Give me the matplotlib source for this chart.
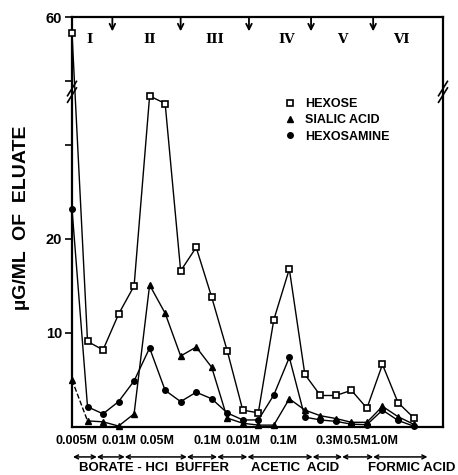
import numpy as np
import matplotlib as mpl
mpl.use('agg')
import matplotlib.pyplot as plt
from matplotlib.lines import Line2D

plt.rcParams['font.family'] = ['Liberation Sans', 'DejaVu Sans']

# fraction number along the column, values in ug/ml of eluate
fractions = np.arange(23)
hexose = [55, 9.1, 8.2, 12.0, 15.0, 35.2, 34.4, 16.6, 19.1, 13.8, 8.1, 1.8,
          1.5, 11.4, 16.8, 5.6, 3.35, 3.35, 3.9, 2.0, 6.65, 2.6, 1.0]
sialic = [5.0, 0.65, 0.55, 0.1, 1.4, 15.1, 12.1, 7.55, 8.5, 6.35, 0.95, 0.4,
          0.2, 0.2, 3.0, 1.8, 1.2, 0.9, 0.5, 0.5, 2.2, 1.1, 0.3]
hexosamine = [23.2, 2.15, 1.4, 2.7, 4.9, 8.4, 3.9, 2.7, 3.7, 3.0, 1.5, 0.75,
              0.75, 3.4, 7.4, 1.05, 0.75, 0.6, 0.3, 0.25, 1.8, 0.7, 0.1]

peak_names = ['I', 'II', 'III', 'IV', 'V', 'VI']
peak_pos = [1.1, 5.0, 9.2, 13.8, 17.4, 21.2]
cut_pos = [2.6, 7.0, 11.4, 15.4, 19.4]

conc_labels = ['0.005M', '0.01M', '0.05M', '0.1M', '0.01M', '0.1M', '0.3M', '0.5M', '1.0M']
conc_pos = [0.26, 3.0, 5.5, 8.7, 11.0, 13.6, 16.6, 18.4, 20.1]
step_bounds = [0.06, 1.6, 3.4, 7.4, 9.35, 11.3, 15.5, 17.4, 19.4, 22.9]

# broken y axis: linear up to 36, compressed above 40
brk_v = [-1000, 0, 36, 40, 60, 1000]
brk_d = [-1000, 0, 36, 36.8, 43.6, 43.6 + 940 * 0.34]
def fwd(v):
    return np.interp(v, brk_v, brk_d)
def inv(d):
    return np.interp(d, brk_d, brk_v)

fig = plt.figure(figsize=(4.58, 4.75), dpi=100)
ax = fig.add_axes([72/458, 48/475, 371/458, 410/475])
ax.set_yscale('function', functions=(fwd, inv))
ax.set_xlim(0, 23.9)
ax.set_ylim(0, 60)

ax.plot(fractions, hexose, '-', color='k', lw=1, marker='s', ms=4.6,
        mfc='white', mec='k', mew=1.2, clip_on=False, zorder=4)
ax.plot(fractions[:2], sialic[:2], '--', color='k', lw=1)
ax.plot(fractions[1:], sialic[1:], '-', color='k', lw=1)
ax.plot(fractions, sialic, ls='none', marker='^', ms=4.5, color='k', clip_on=False)
ax.plot(fractions, hexosamine, '-', color='k', lw=1, marker='o', ms=4,
        clip_on=False)

for s in ax.spines.values():
    s.set_linewidth(1.6)
ax.set_xticks([])
ax.set_yticks([10, 20, 30, 40, 60])
ax.set_yticklabels(['10', '20', '', '', '60'])
ax.tick_params(axis='y', direction='out', length=5, width=1.2, pad=2,
               labelsize=10.5)
for t in ax.get_yticklabels():
    t.set_fontweight('bold')

# break marks on both sides
for xa in (0, 1):
    for dy in (-0.008, 0.008):
        ax.plot([xa - 0.012, xa + 0.012], [0.80 + dy, 0.835 + dy], color='k',
                lw=1.2, transform=ax.transAxes, clip_on=False, zorder=6)

# cut arrows and peak numerals along the top
for xp in cut_pos:
    ax.annotate('', xy=(xp, 0.965), xytext=(xp, 1.0),
                xycoords=('data', 'axes fraction'),
                arrowprops=dict(arrowstyle='->', lw=1.3, color='k',
                                mutation_scale=10, shrinkA=0, shrinkB=0))
for name, xp in zip(peak_names, peak_pos):
    ax.text(xp, 0.945, name, transform=ax.get_xaxis_transform(), ha='center',
            va='center', fontsize=9.5, fontweight='bold', family='DejaVu Serif')

handles = [Line2D([], [], ls='none', marker='s', ms=4.5, mfc='white', mec='k', mew=1.2),
           Line2D([], [], ls='none', marker='^', ms=4.5, color='k'),
           Line2D([], [], ls='none', marker='o', ms=4, color='k')]
leg = ax.legend(handles, ['HEXOSE', 'SIALIC ACID', 'HEXOSAMINE'], frameon=False,
                loc='upper left', bbox_to_anchor=(0.54, 0.83), handlelength=1,
                handletextpad=0.7, labelspacing=0.35, prop=dict(size=9, weight='bold'))

# eluent concentrations and buffers below the axis
for lab, xp in zip(conc_labels, conc_pos):
    ax.text(xp, -0.035, lab, transform=ax.get_xaxis_transform(), ha='center',
            va='center', fontsize=9, fontweight='bold')
for a, b in zip(step_bounds[:-1], step_bounds[1:]):
    ax.annotate('', xy=(b, -0.073), xytext=(a, -0.073),
                xycoords=('data', 'axes fraction'),
                arrowprops=dict(arrowstyle='<->', lw=1.1, color='k',
                                mutation_scale=7, shrinkA=0, shrinkB=0))
ax.text(5.3, -0.1, 'BORATE - HCl  BUFFER', transform=ax.get_xaxis_transform(),
        ha='center', va='center', fontsize=9.5, fontweight='bold')
ax.text(14.4, -0.1, 'ACETIC  ACID', transform=ax.get_xaxis_transform(),
        ha='center', va='center', fontsize=9.5, fontweight='bold')
ax.text(19.1, -0.1, 'FORMIC ACID', transform=ax.get_xaxis_transform(),
        ha='left', va='center', fontsize=9.5, fontweight='bold')

fig.text(22/458, 1 - 218/475, 'µG/ML  OF  ELUATE', rotation=90, ha='center',
         va='center', fontsize=14, fontweight='bold')

fig.savefig('out.png', dpi=100)
